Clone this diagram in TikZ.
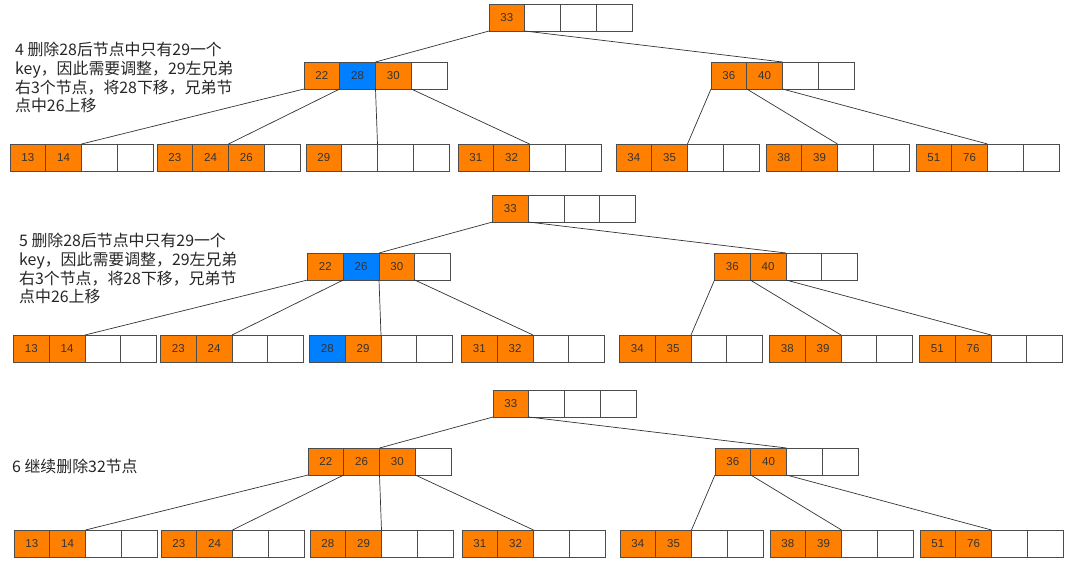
\documentclass[tikz,border=0pt]{standalone}
\usepackage{fontspec}
\setmainfont{Liberation Sans}
\newfontfamily\cjk{Noto Sans CJK SC}
\usepackage{xcolor}
\usepackage{tikz}
\usetikzlibrary{positioning}
\definecolor{okey}{HTML}{FF8000}
\definecolor{bkey}{HTML}{007FFF}
\tikzset{cell/.style={rectangle,draw=black!70,line width=0.8pt,minimum width=35.75pt,minimum height=27pt,inner sep=0pt,outer sep=0pt,anchor=north west,font=\fontsize{11.5}{13}\selectfont,text=black!80}}
\tikzset{ptr/.style={draw=black!80,line width=0.7pt}}
\tikzset{note/.style={anchor=north west,align=left,inner sep=0pt,font=\cjk\fontsize{15.9}{18.7}\selectfont,text=black!85}}

\begin{document}
\begin{tikzpicture}[x=1pt,y=-1pt]

  \def\d{35.75};
  \useasboundingbox (0,0) rectangle (1080,565);

  % step 4
  \foreach \nm/\x/\y/\cells in {a-r/489/4/{33/okey,/white,/white,/white},
      a-L/304/62/{22/okey,28/bkey,30/okey,/white}, a-R/711/62/{36/okey,40/okey,/white,/white},
      a-1/10/144/{13/okey,14/okey,/white,/white}, a-2/157/144/{23/okey,24/okey,26/okey,/white},
      a-3/306/144/{29/okey,/white,/white,/white}, a-4/458/144/{31/okey,32/okey,/white,/white},
      a-5/616/144/{34/okey,35/okey,/white,/white}, a-6/766/144/{38/okey,39/okey,/white,/white},
      a-7/916/144/{51/okey,76/okey,/white,/white}} {
    \foreach \k/\f [count=\i from 0] in \cells {
      \node[cell,fill=\f] (\nm-\i) at (\x+\i*\d,\y) {\k};
    }
  }

  % step 5
  \begin{scope}[shift={(3.5,191)}]
  \foreach \nm/\x/\y/\cells in {b-r/489/4/{33/okey,/white,/white,/white},
      b-L/304/62/{22/okey,26/bkey,30/okey,/white}, b-R/711/62/{36/okey,40/okey,/white,/white},
      b-1/10/144/{13/okey,14/okey,/white,/white}, b-2/157/144/{23/okey,24/okey,/white,/white},
      b-3/306/144/{28/bkey,29/okey,/white,/white}, b-4/458/144/{31/okey,32/okey,/white,/white},
      b-5/616/144/{34/okey,35/okey,/white,/white}, b-6/766/144/{38/okey,39/okey,/white,/white},
      b-7/916/144/{51/okey,76/okey,/white,/white}} {
    \foreach \k/\f [count=\i from 0] in \cells {
      \node[cell,fill=\f] (\nm-\i) at (\x+\i*\d,\y) {\k};
    }
  }
  \end{scope}

  % step 6
  \begin{scope}[shift={(4,386)}]
  \foreach \nm/\x/\y/\cells in {c-r/489/4/{33/okey,/white,/white,/white},
      c-L/304/62/{22/okey,26/okey,30/okey,/white}, c-R/711/62/{36/okey,40/okey,/white,/white},
      c-1/10/144/{13/okey,14/okey,/white,/white}, c-2/157/144/{23/okey,24/okey,/white,/white},
      c-3/306/144/{28/okey,29/okey,/white,/white}, c-4/458/144/{31/okey,32/okey,/white,/white},
      c-5/616/144/{34/okey,35/okey,/white,/white}, c-6/766/144/{38/okey,39/okey,/white,/white},
      c-7/916/144/{51/okey,76/okey,/white,/white}} {
    \foreach \k/\f [count=\i from 0] in \cells {
      \node[cell,fill=\f] (\nm-\i) at (\x+\i*\d,\y) {\k};
    }
  }
  \end{scope}

  % pointers
  \foreach \t in {a,b,c} {
    \draw[ptr] (\t-r-0.south west) -- (\t-L-2.north west);
    \draw[ptr] (\t-r-0.south east) -- (\t-R-1.north east);
    \draw[ptr] (\t-L-0.south west) -- (\t-1-1.north east);
    \draw[ptr] (\t-L-0.south east) -- (\t-2-1.north east);
    \draw[ptr] (\t-L-1.south east) -- (\t-3-1.north east);
    \draw[ptr] (\t-L-2.south east) -- (\t-4-1.north east);
    \draw[ptr] (\t-R-0.south west) -- (\t-5-1.north east);
    \draw[ptr] (\t-R-0.south east) -- (\t-6-1.north east);
    \draw[ptr] (\t-R-1.south east) -- (\t-7-1.north east);
  }

  \node[note] (n4) at (15,42) {4 删除28后节点中只有29一个\\key，因此需要调整，29左兄弟\\右3个节点，将28下移，兄弟节\\点中26上移};
  \node[note] (n5) at (19,233) {5 删除28后节点中只有29一个\\key，因此需要调整，29左兄弟\\右3个节点，将28下移，兄弟节\\点中26上移};
  \node[note] (n6) at (12,459) {6 继续删除32节点};

\end{tikzpicture}
\end{document}
